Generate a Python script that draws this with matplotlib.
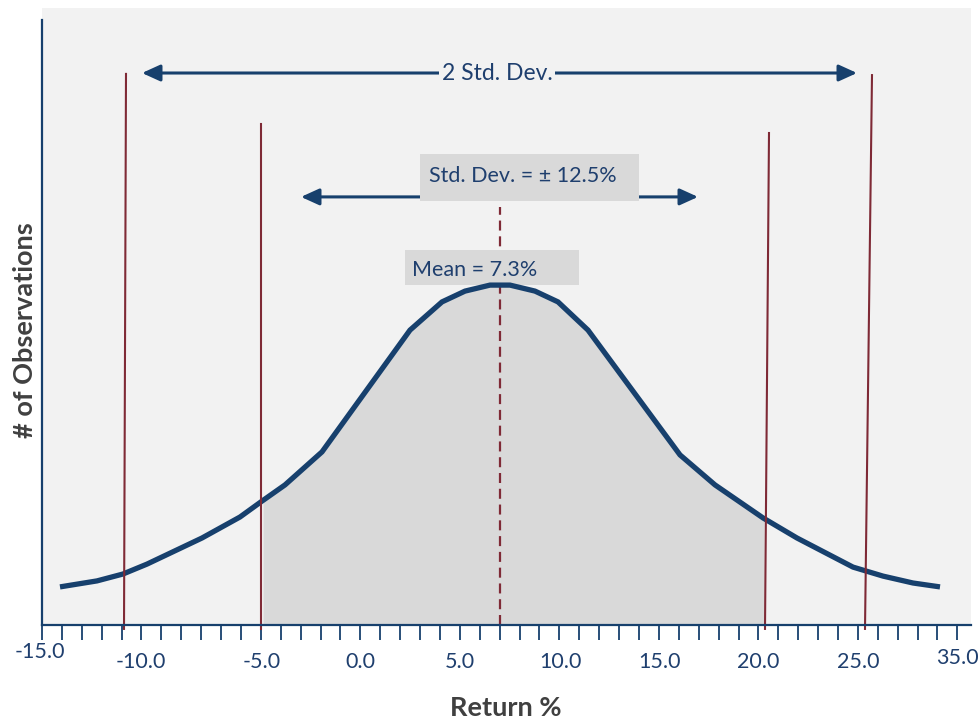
import numpy as np
import matplotlib
matplotlib.use("Agg")
import matplotlib.pyplot as plt
from matplotlib.patches import Rectangle

plt.rcParams['font.family'] = ['Lato', 'DejaVu Sans']

# Distribution curve (return %, relative number of observations)
curve_x = [-15.0, -13.15, -11.85, -10.65, -7.9, -6.0, -4.9, -3.75, -1.9, 2.5, 4.1,
           5.25, 6.5, 7.5, 8.75, 9.9, 11.4, 16.0, 17.75, 20.15, 21.85, 24.65,
           26.15, 27.65, 29.0]
curve_y = [12.7, 14.7, 17.0, 20.3, 29.0, 36.0, 41.3, 46.7, 57.7, 98.3, 107.7,
           111.3, 113.3, 113.3, 111.3, 107.7, 98.3, 56.7, 46.7, 35.7, 29.0, 19.3,
           16.3, 14.0, 12.7]

# Shaded band (one standard deviation either side of the mean)
band_x = [-4.85, 20.2]

# Reference lines: (x at bottom, x at top, top height)
ref_lines_bottom = [-11.8, -4.95, 20.25, 25.25]
ref_lines_top = [-11.7, -4.95, 20.45, 25.6]
ref_lines_height = [183.7, 167.0, 164.0, 183.3]
mean_x = 7.0

# Axis tick labels and where they sit along the axis
tick_labels = ["-15.0", "-10.0", "-5.0", "0.0", "5.0", "10.0", "15.0", "20.0", "25.0", "35.0"]
tick_label_x = [-16.0, -10.95, -4.9, 0.0, 5.0, 10.0, 15.0, 19.9, 24.9, 29.85]
tick_label_y = [-8.9, -12.2, -12.2, -12.2, -12.2, -12.2, -12.2, -12.2, -12.2, -10.9]

NAVY = "#17406D"
TEXT_BLUE = "#1F3F6E"
MAROON = "#7F2A36"
BG = "#F2F2F2"
SHADE = "#D9D9D9"

fig = plt.figure(figsize=(9.79, 7.2), dpi=100)
ax = fig.add_axes([42 / 979, 95 / 720, 929 / 979, 617 / 720])
ax.set_facecolor(BG)
ax.set_xlim(-15.9, 30.55)
ax.set_ylim(0, 205.67)

# shaded area under the curve inside the band
fx = np.linspace(band_x[0], band_x[1], 400)
fy = np.interp(fx, curve_x, curve_y)
ax.fill_between(fx, 0, fy, color=SHADE, lw=0, zorder=1)

# mean line
ax.plot([mean_x, mean_x], [0, 139.3], color=MAROON, lw=1.6, dashes=(4.5, 2.6), zorder=2)

# labelled boxes
ax.add_patch(Rectangle((3.0, 141.3), 10.95, 15.7, facecolor=SHADE, edgecolor='none', zorder=4))
ax.text(3.45, 149.8, "Std. Dev. = \u00b1 12.5%", color=TEXT_BLUE, fontsize=15.5,
        va='center', ha='left', zorder=5)
ax.add_patch(Rectangle((2.25, 113.3), 8.7, 11.7, facecolor=SHADE, edgecolor='none', zorder=4))
ax.text(2.6, 118.2, "Mean = 7.3%", color=TEXT_BLUE, fontsize=15.5,
        va='center', ha='left', zorder=5)

# distribution curve
ax.plot(curve_x, curve_y, color=NAVY, lw=3.8, solid_capstyle='butt',
        solid_joinstyle='miter', zorder=6)

# vertical reference lines
for xb, xt, h in zip(ref_lines_bottom, ref_lines_top, ref_lines_height):
    ax.plot([xb, xt], [-1.3, h], color=MAROON, lw=1.5, zorder=7, clip_on=False)

# arrows
arrow_style = "<|-|>,head_length=1.1,head_width=0.5"
ax.annotate("", xy=(-10.9, 184.0), xytext=(24.85, 184.0),
            arrowprops=dict(arrowstyle=arrow_style, color=NAVY, lw=2.2,
                            mutation_scale=10, shrinkA=0, shrinkB=0), zorder=3)
ax.text(6.85, 184.0, "2 Std. Dev.", color=TEXT_BLUE, fontsize=16.5, ha='center', va='center',
        bbox=dict(facecolor=BG, edgecolor='none', pad=2.0), zorder=4)
ax.annotate("", xy=(-2.95, 142.7), xytext=(16.9, 142.7),
            arrowprops=dict(arrowstyle=arrow_style, color=NAVY, lw=2.2,
                            mutation_scale=10, shrinkA=0, shrinkB=0), zorder=3)

# axes styling
for side in ('top', 'right'):
    ax.spines[side].set_visible(False)
for side in ('left', 'bottom'):
    ax.spines[side].set_color(NAVY)
    ax.spines[side].set_linewidth(1.6)
    ax.spines[side].set_zorder(8)
ax.spines['left'].set_bounds(0, 201.7)

ax.set_yticks([])
tick_pos = [-15.9 + 0.995 * k for k in range(47)]
ax.set_xticks(tick_pos)
ax.set_xticklabels([])
ax.tick_params(axis='x', direction='out', length=11, width=1.3, color=NAVY)

for lbl, lx, ly in zip(tick_labels, tick_label_x, tick_label_y):
    ax.text(lx, ly, lbl, color=TEXT_BLUE, fontsize=15.5, ha='center', va='center',
            clip_on=False)

fig.text(25 / 979, 1 - 330 / 720, "# of Observations", rotation=90, fontsize=19.5,
         fontweight='bold', color="#404040", ha='center', va='center')
fig.text(506 / 979, 1 - 708 / 720, "Return %", fontsize=19.5, fontweight='bold',
         color="#404040", ha='center', va='center')

fig.savefig("out.png", dpi=100, facecolor='white')
